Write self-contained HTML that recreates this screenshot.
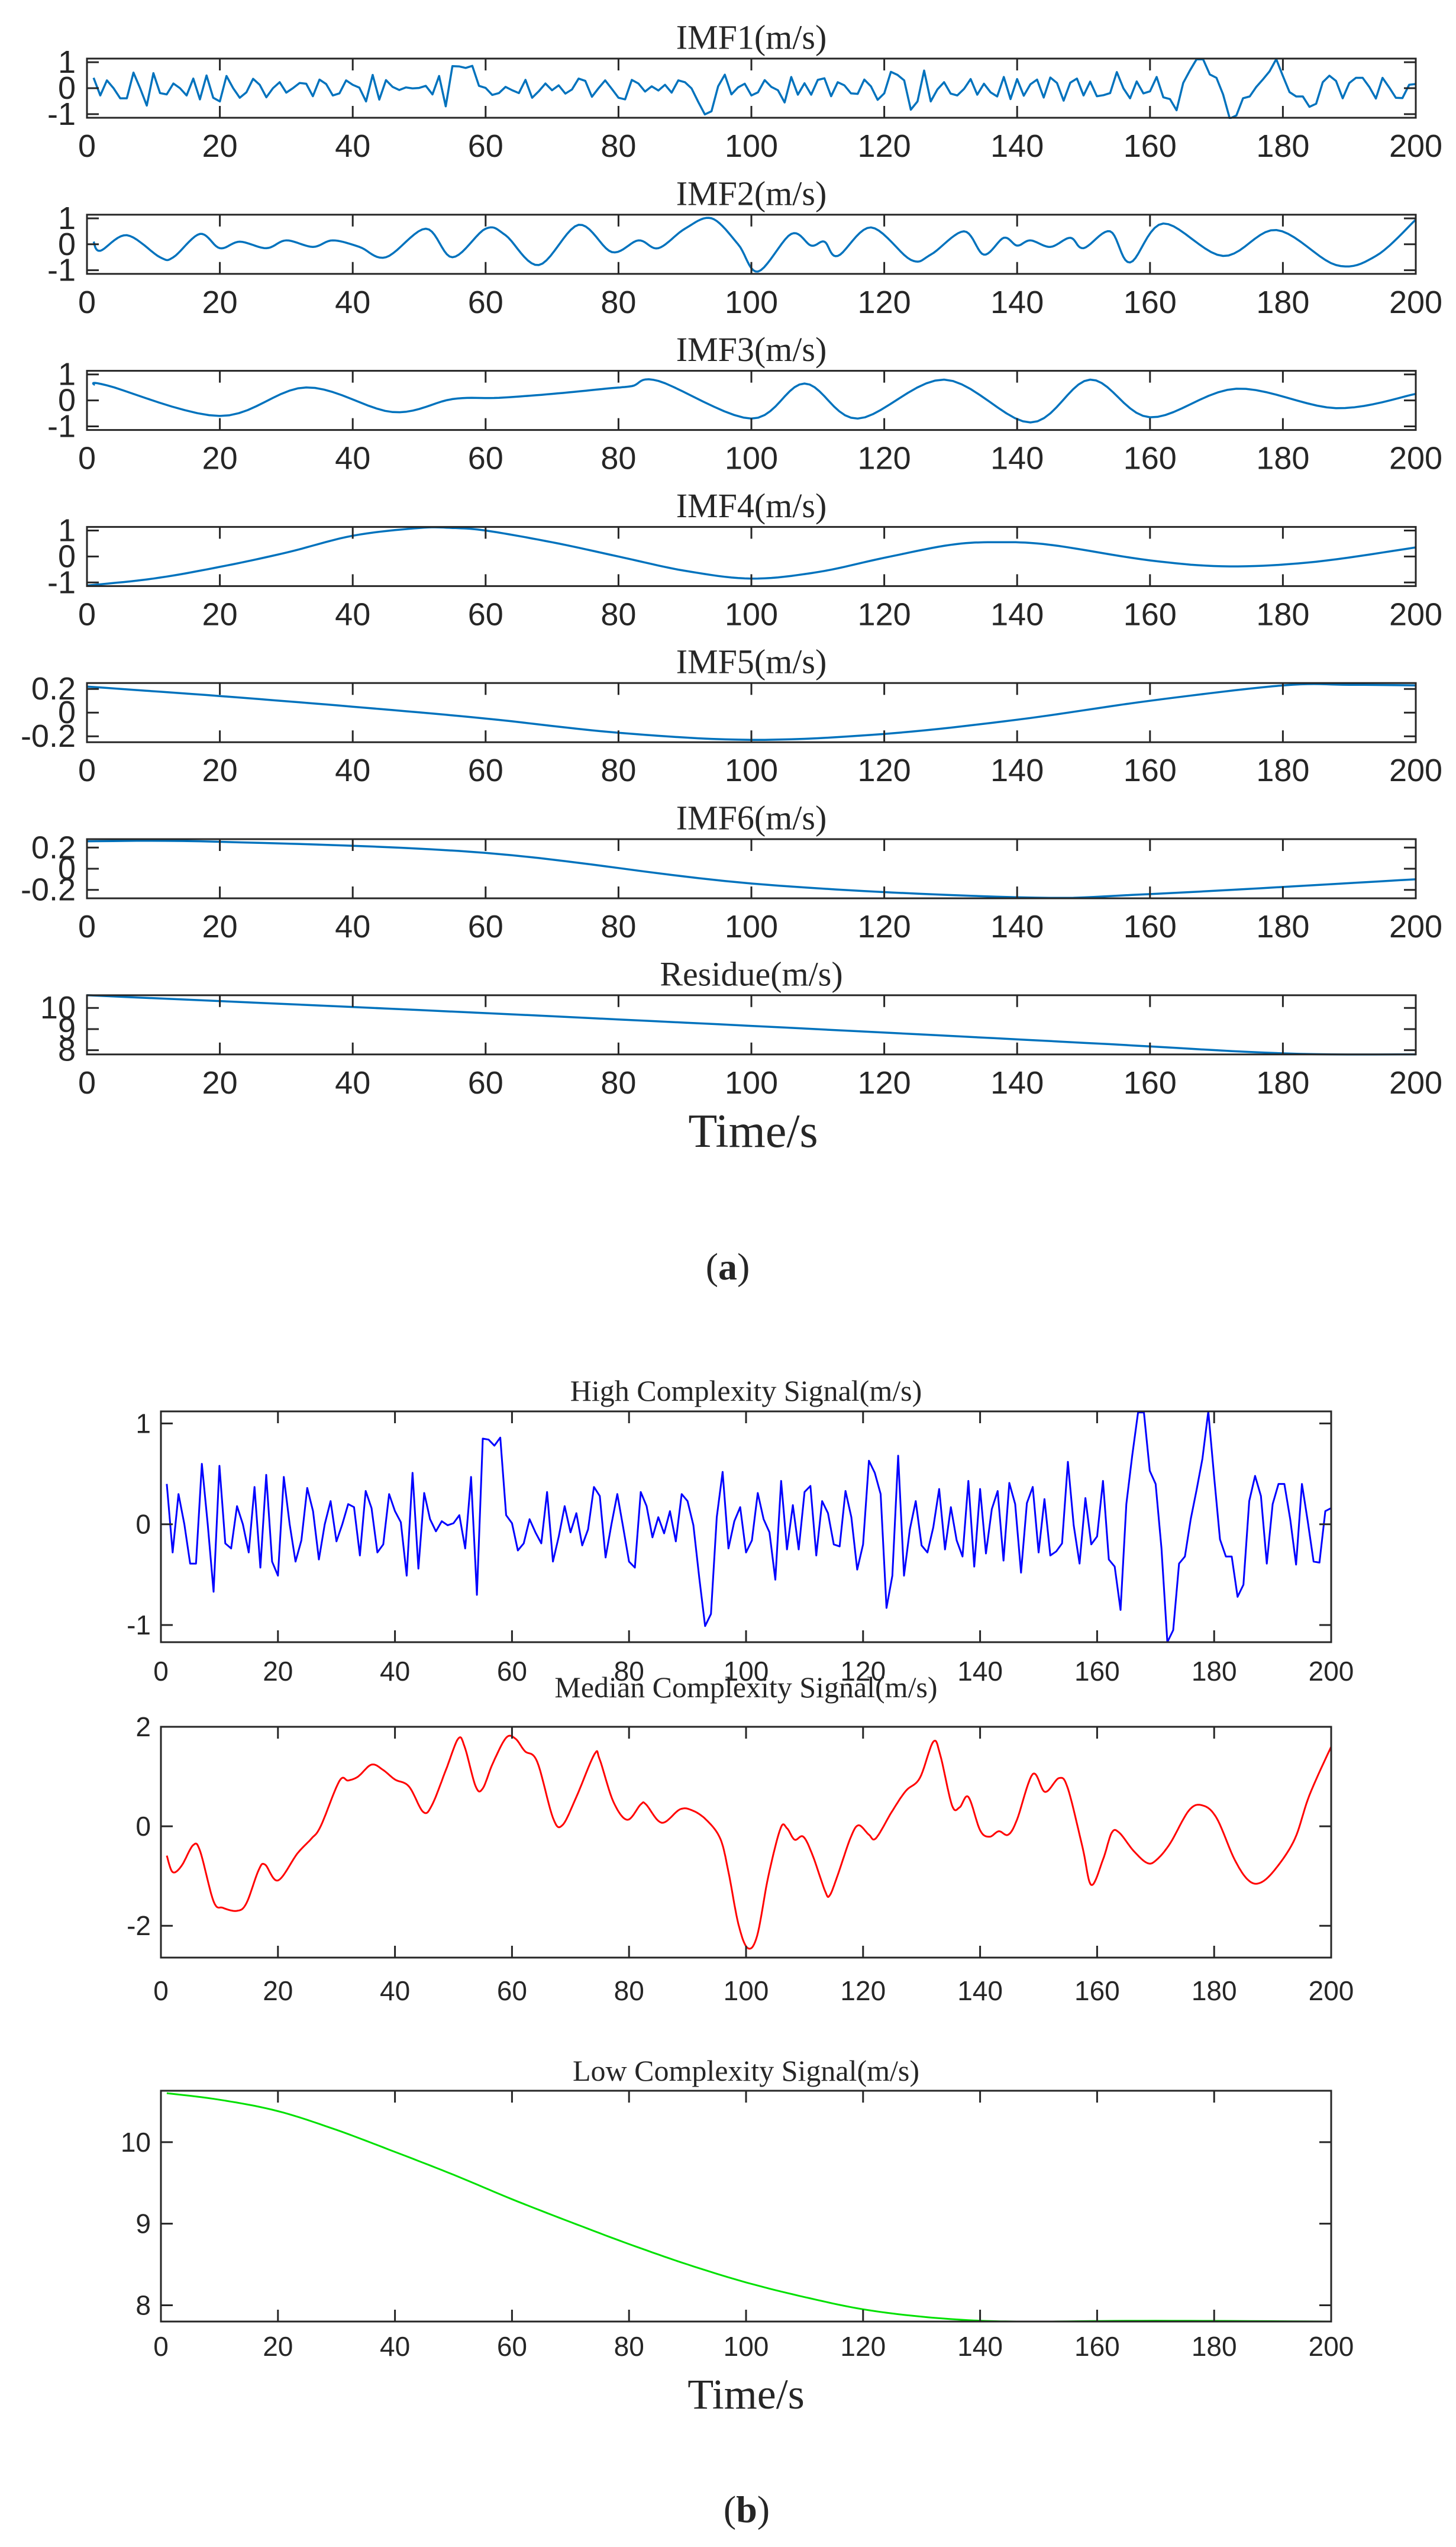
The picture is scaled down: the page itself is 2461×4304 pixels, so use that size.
<!DOCTYPE html>
<html><head><meta charset="utf-8"><style>
html,body{margin:0;padding:0;background:#fff}
svg{display:block}
</style></head><body>
<svg id="s" width="2461" height="4304" xmlns="http://www.w3.org/2000/svg"></svg>
<script>
const S=document.getElementById('s');let out='';
const hi=[0.40,-0.28,0.30,0,-0.39,-0.39,0.60,0,-0.67,0.58,-0.19,-0.24,0.18,0,-0.28,0.37,-0.43,0.49,-0.37,-0.51,0.47,0,-0.37,-0.16,0.36,0.13,-0.35,0,0.23,-0.17,0,0.20,0.17,-0.31,0.33,0.16,-0.28,-0.20,0.30,0.13,0.02,-0.51,0.51,-0.44,0.31,0.05,-0.07,0.03,-0.01,0.01,0.09,-0.24,0.47,-0.70,0.85,0.84,0.78,0.86,0.09,0.01,-0.26,-0.19,0.05,-0.08,-0.19,0.32,-0.37,-0.12,0.18,-0.08,0.11,-0.21,-0.05,0.37,0.28,-0.33,0.0,0.30,-0.03,-0.37,-0.43,0.32,0.18,-0.13,0.07,-0.09,0.13,-0.17,0.30,0.23,-0.01,-0.53,-1.01,-0.89,0.07,0.52,-0.24,0.03,0.17,-0.28,-0.16,0.31,0.05,-0.08,-0.55,0.43,-0.25,0.19,-0.25,0.32,0.38,-0.31,0.23,0.11,-0.20,-0.22,0.33,0.07,-0.45,-0.20,0.63,0.51,0.30,-0.83,-0.51,0.68,-0.51,-0.05,0.23,-0.21,-0.28,-0.03,0.35,-0.25,0.17,-0.16,-0.32,0.43,-0.42,0.35,-0.29,0.15,0.33,-0.36,0.41,0.20,-0.48,0.21,0.37,-0.28,0.25,-0.31,-0.27,-0.19,0.62,-0.01,-0.39,0.26,-0.20,-0.12,0.43,-0.35,-0.42,-0.85,0.20,0.68,1.11,1.11,0.53,0.40,-0.24,-1.17,-1.05,-0.39,-0.32,0.05,0.34,0.65,1.12,0.47,-0.15,-0.32,-0.32,-0.72,-0.60,0.23,0.48,0.28,-0.39,0.20,0.40,0.40,0.05,-0.40,0.40,0.03,-0.37,-0.38,0.13,0.16];
const hiPts=hi.map((v,i)=>[i+1,v]);
const med=[[1,-0.59],[2,-0.92],[3.5,-0.80],[5.5,-0.38],[6.7,-0.5],[9,-1.51],[10.6,-1.64],[13,-1.70],[14.6,-1.55],[16.7,-0.88],[17.8,-0.77],[20,-1.09],[23.3,-0.55],[25.7,-0.25],[27.3,0],[30.5,0.91],[32,0.92],[33.7,1.0],[36,1.24],[38,1.13],[40,0.94],[42.4,0.80],[44.8,0.29],[46.3,0.42],[48.7,1.13],[50.8,1.76],[51.9,1.60],[53.8,0.80],[55,0.76],[56.7,1.26],[59,1.78],[60.6,1.76],[62.2,1.51],[64.3,1.30],[67,0.17],[68.6,0.02],[71,0.59],[74.1,1.45],[75,1.34],[77.3,0.50],[79.7,0.13],[82,0.44],[82.9,0.44],[85.6,0.07],[88.7,0.34],[90.8,0.32],[93.2,0.13],[95.6,-0.25],[97,-0.92],[98.7,-1.97],[100.3,-2.45],[101.9,-2.2],[103.8,-1.01],[105.9,-0.04],[107,-0.04],[108.3,-0.27],[109.8,-0.21],[111.4,-0.59],[113.5,-1.30],[114.3,-1.39],[115.7,-0.97],[117.8,-0.25],[119.2,0.02],[121,-0.17],[122.2,-0.24],[124.9,0.29],[127.3,0.71],[129.7,0.97],[132,1.70],[133.2,1.43],[135.2,0.42],[136.5,0.38],[138,0.59],[140,-0.08],[141.6,-0.21],[143.2,-0.10],[144.8,-0.17],[146.3,0.13],[149,1.05],[151.1,0.69],[153.5,0.97],[155,0.76],[157.5,-0.42],[159,-1.18],[161,-0.67],[162.5,-0.13],[163.8,-0.13],[166.2,-0.49],[168.6,-0.74],[170.2,-0.67],[172.5,-0.34],[175.7,0.32],[178,0.42],[180.4,0.17],[183.5,-0.67],[185.9,-1.09],[188,-1.13],[190.6,-0.84],[193.8,-0.25],[196.3,0.63],[200,1.60]];
const imf2=[[1,0.1],[2,-0.25],[6,0.35],[11,-0.5],[13,-0.5],[17,0.4],[20,-0.15],[23,0.1],[27,-0.15],[30,0.15],[34,-0.1],[37,0.15],[41,-0.1],[45,-0.5],[51,0.6],[55,-0.5],[60,0.6],[63,0.35],[68,-0.8],[74,0.75],[79,-0.3],[83,0.15],[86,-0.15],[90,0.6],[94,1.0],[98,0.0],[101,-1.05],[106,0.4],[109,-0.05],[111,0.1],[113,-0.45],[118,0.65],[124,-0.6],[127,-0.4],[132,0.5],[135,-0.4],[138,0.25],[140,-0.05],[142,0.15],[145,-0.1],[148,0.25],[150,-0.15],[154,0.5],[157,-0.7],[162,0.8],[171,-0.45],[179,0.55],[188,-0.8],[194,-0.45],[200,0.95]];
const imf3=[[1,0.6],[3,0.58],[20,-0.6],[33,0.5],[46,-0.45],[55,0.05],[62,0.1],[70,0.25],[78,0.45],[82,0.55],[86,0.75],[100,-0.7],[108,0.65],[116,-0.7],[129,0.8],[142,-0.85],[151,0.8],[160,-0.65],[173,0.45],[188,-0.3],[200,0.25]];
const imf4=[[0,-1.12],[10,-0.85],[20,-0.4],[30,0.15],[40,0.8],[50,1.1],[55,1.1],[60,1.0],[70,0.55],[80,0.0],[90,-0.55],[100,-0.85],[110,-0.6],[120,-0.05],[130,0.45],[137,0.55],[145,0.45],[160,-0.15],[172,-0.38],[185,-0.2],[200,0.35]];
const imf5=[[0,0.22],[20,0.14],[40,0.05],[60,-0.05],[80,-0.17],[100,-0.23],[120,-0.18],[140,-0.06],[160,0.1],[180,0.23],[190,0.235],[200,0.23]];
const imf6=[[0,0.26],[20,0.255],[60,0.15],[100,-0.14],[140,-0.27],[160,-0.24],[200,-0.1]];
const res=[[0,10.6],[50,9.9],[100,9.15],[150,8.35],[180,7.85],[200,7.8]];
const low=[[1,10.6],[10,10.52],[20,10.38],[30,10.15],[40,9.88],[50,9.6],[60,9.3],[70,9.02],[80,8.75],[90,8.5],[100,8.28],[110,8.1],[120,7.95],[130,7.86],[140,7.81],[150,7.8],[170,7.81],[200,7.8]];
function smooth(p){const r=[];for(let i=0;i<p.length-1;i++){const p0=p[Math.max(i-1,0)],p1=p[i],p2=p[i+1],p3=p[Math.min(i+2,p.length-1)];for(let k=0;k<10;k++){const t=k/10,t2=t*t,t3=t2*t;const f=(a,b,c,d)=>0.5*((2*b)+(-a+c)*t+(2*a-5*b+4*c-d)*t2+(-a+3*b-3*c+d)*t3);r.push([f(p0[0],p1[0],p2[0],p3[0]),f(p0[1],p1[1],p2[1],p3[1])]);}}r.push(p[p.length-1]);return r;}
let cid=0;
function panel(o){const {x0,x1,y0,y1,ymin,ymax,yt,ytl,data,col,lw,fs,title,tfs,ty,tlx,xly,tickLen}=o;
 const X=t=>x0+(t/200)*(x1-x0),Y=v=>y1-(v-ymin)/(ymax-ymin)*(y1-y0);
 cid++;out+=`<clipPath id="c${cid}"><rect x="${x0}" y="${y0-2}" width="${x1-x0}" height="${y1-y0+4}"/></clipPath>`;
 out+=`<path clip-path="url(#c${cid})" d="M${data.map(p=>X(p[0]).toFixed(1)+','+Y(p[1]).toFixed(1)).join('L')}" fill="none" stroke="${col}" stroke-width="${lw}" stroke-linejoin="round"/>`;
 let tk='';for(let t=0;t<=200;t+=20){const x=X(t);tk+=`M${x},${y1}v${-tickLen}M${x},${y0}v${tickLen}`;out+=`<text x="${x}" y="${xly}" font-size="${fs}" text-anchor="middle" dominant-baseline="central">${t}</text>`;}
 yt.forEach((v,i)=>{const y=Y(v);tk+=`M${x0},${y}h${tickLen}M${x1},${y}h${-tickLen}`;out+=`<text x="${tlx}" y="${y}" font-size="${fs}" text-anchor="end" dominant-baseline="central">${ytl[i]}</text>`;});
 out+=`<path d="${tk}" stroke="#262626" stroke-width="3" fill="none"/>`;
 out+=`<rect x="${x0}" y="${y0}" width="${x1-x0}" height="${y1-y0}" fill="none" stroke="#262626" stroke-width="3"/>`;
 out+=`<text x="${(x0+x1)/2}" y="${ty}" font-size="${tfs}" text-anchor="middle" dominant-baseline="central" font-family="Liberation Serif,serif">${title}</text>`;
}
const A={x0:147,x1:2393,col:'#0072BD',lw:3.5,fs:54,tfs:58,tlx:128,tickLen:20};
const sets=[[hiPts,-1.14,1.14,[1,0,-1],['1','0','-1'],'IMF1(m/s)'],[smooth(imf2),-1.14,1.14,[1,0,-1],['1','0','-1'],'IMF2(m/s)'],[smooth(imf3),-1.14,1.14,[1,0,-1],['1','0','-1'],'IMF3(m/s)'],[smooth(imf4),-1.14,1.14,[1,0,-1],['1','0','-1'],'IMF4(m/s)'],[smooth(imf5),-0.25,0.25,[0.2,0,-0.2],['0.2','0','-0.2'],'IMF5(m/s)'],[smooth(imf6),-0.28,0.28,[0.2,0,-0.2],['0.2','0','-0.2'],'IMF6(m/s)'],[smooth(res),7.8,10.6,[10,9,8],['10','9','8'],'Residue(m/s)']];
sets.forEach((s,k)=>{const y0=99+k*263.8;panel(Object.assign({},A,{y0,y1:y0+100,ymin:s[1],ymax:s[2],yt:s[3],ytl:s[4],data:s[0],title:s[5],ty:y0-36,xly:y0+148}));});
out+=`<text x="1273" y="1912" font-size="80" text-anchor="middle" dominant-baseline="central" font-family="Liberation Serif,serif">Time/s</text>`;
out+=`<text x="1230" y="2140" font-size="64" text-anchor="middle" dominant-baseline="central" font-family="Liberation Serif,serif">(<tspan font-weight="bold">a</tspan>)</text>`;
const B={x0:272,x1:2250,lw:3,fs:46,tfs:50,tlx:255,tickLen:20};
panel(Object.assign({},B,{y0:2385,y1:2775,ymin:-1.17,ymax:1.12,yt:[1,0,-1],ytl:['1','0','-1'],data:hiPts,col:'#0000FF',title:'High Complexity Signal(m/s)',ty:2350,xly:2824}));
panel(Object.assign({},B,{y0:2918,y1:3308,ymin:-2.64,ymax:2.0,yt:[2,0,-2],ytl:['2','0','-2'],data:smooth(med),col:'#FF0000',title:'Median Complexity Signal(m/s)',ty:2851,xly:3364}));
panel(Object.assign({},B,{y0:3533,y1:3923,ymin:7.8,ymax:10.63,yt:[10,9,8],ytl:['10','9','8'],data:smooth(low),col:'#00E000',title:'Low Complexity Signal(m/s)',ty:3499,xly:3965}));
out+=`<text x="1261" y="4046" font-size="72" text-anchor="middle" dominant-baseline="central" font-family="Liberation Serif,serif">Time/s</text>`;
out+=`<text x="1262" y="4240" font-size="64" text-anchor="middle" dominant-baseline="central" font-family="Liberation Serif,serif">(<tspan font-weight="bold">b</tspan>)</text>`;
S.innerHTML=`<g font-family="Liberation Sans,Arial,sans-serif" fill="#262626">${out}</g>`;
</script>
</body></html>
